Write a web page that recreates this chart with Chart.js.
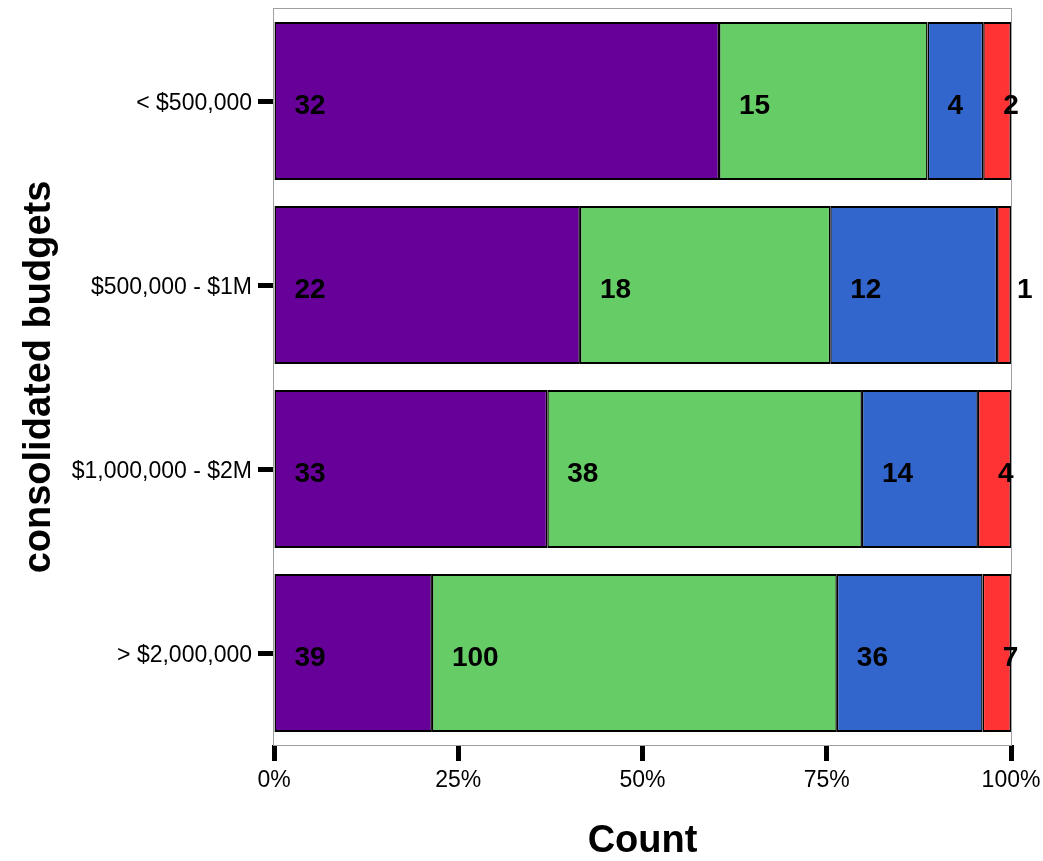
<!DOCTYPE html>
<html lang="en">
<head>
    <meta charset="UTF-8">
    <title>Consolidated budgets</title>
    <script src="https://cdn.jsdelivr.net/npm/chart.js"></script>
    <style>
        body {
            margin: 0;
            background: #ffffff;
        }
        canvas {
            display: block;
        }
    </style>
</head>
<body>
    <canvas id="myChart" width="1043" height="861"></canvas>

    <script>
        // data
        var budgets = ['< $500,000', '$500,000 - $1M', '$1,000,000 - $2M', '> $2,000,000'];
        var purpleCounts = [32, 22, 33, 39];
        var greenCounts = [15, 18, 38, 100];
        var blueCounts = [4, 12, 14, 36];
        var redCounts = [2, 1, 4, 7];
        var percentTicks = [0, 25, 50, 75, 100];

        var seriesCounts = [purpleCounts, greenCounts, blueCounts, redCounts];
        var seriesColors = ['#660099', '#66CC66', '#3366CC', '#FF3333'];

        // row totals -> share of each segment
        var totals = budgets.map(function(b, i) {
            return seriesCounts.reduce(function(s, arr) { return s + arr[i]; }, 0);
        });

        var datasets = seriesCounts.map(function(arr, k) {
            return {
                data: arr.map(function(v, i) { return v / totals[i] * 100; }),
                counts: arr,
                backgroundColor: seriesColors[k],
                borderColor: '#000000',
                borderWidth: {top: 2, bottom: 2, left: 1.5, right: 1.5},
                borderSkipped: false,
                barPercentage: 0.86,
                categoryPercentage: 1.0
            };
        });

        // grey frame around the plot area
        var framePlugin = {
            id: 'frame',
            beforeDatasetsDraw: function(chart) {
                var a = chart.chartArea;
                var ctx = chart.ctx;
                ctx.save();
                ctx.strokeStyle = '#a0a0a0';
                ctx.lineWidth = 1;
                ctx.strokeRect(a.left - 0.5, a.top - 0.5, a.right - a.left + 1, a.bottom - a.top + 1);
                ctx.restore();
            }
        };

        // count labels at the start of every segment
        var countLabels = {
            id: 'countLabels',
            afterDatasetsDraw: function(chart) {
                var ctx = chart.ctx;
                ctx.save();
                ctx.font = 'bold 28px "Liberation Sans", Arial, sans-serif';
                ctx.fillStyle = '#000000';
                ctx.textAlign = 'left';
                ctx.textBaseline = 'middle';
                chart.data.datasets.forEach(function(ds, k) {
                    chart.getDatasetMeta(k).data.forEach(function(bar, i) {
                        var left = Math.min(bar.base, bar.x);
                        ctx.fillText(String(ds.counts[i]), left + 20, bar.y + 5);
                    });
                });
                ctx.restore();
            }
        };

        var tickFont = {family: '"Liberation Sans", Arial, sans-serif', size: 23};
        var titleFont = {family: '"Liberation Sans", Arial, sans-serif', size: 38, weight: 'bold', lineHeight: 1};

        var ctx = document.getElementById('myChart').getContext('2d');
        var myChart = new Chart(ctx, {
            type: 'bar',
            data: {
                labels: budgets,
                datasets: datasets
            },
            plugins: [framePlugin, countLabels],
            options: {
                indexAxis: 'y',
                responsive: false,
                animation: false,
                layout: {
                    padding: {top: 9, right: 32, left: 0, bottom: 0}
                },
                plugins: {
                    legend: {display: false},
                    tooltip: {enabled: false}
                },
                scales: {
                    x: {
                        stacked: true,
                        min: 0,
                        max: 100,
                        afterBuildTicks: function(scale) {
                            scale.ticks = percentTicks.map(function(v) { return {value: v}; });
                        },
                        afterFit: function(scale) {
                            scale.height = 116;
                            scale.paddingLeft = 0;
                            scale.paddingRight = 0;
                        },
                        ticks: {
                            color: '#000000',
                            padding: 6,
                            maxRotation: 0,
                            font: tickFont,
                            callback: function(v) { return v + '%'; }
                        },
                        grid: {
                            display: true,
                            drawOnChartArea: false,
                            drawTicks: true,
                            tickLength: 16,
                            tickWidth: 5,
                            tickColor: '#000000'
                        },
                        border: {display: false},
                        title: {
                            display: true,
                            text: 'Count',
                            color: '#000000',
                            padding: {top: 0, bottom: 0},
                            font: titleFont
                        }
                    },
                    y: {
                        stacked: true,
                        afterFit: function(scale) {
                            scale.width = 274;
                            scale.paddingTop = 0;
                            scale.paddingBottom = 0;
                        },
                        ticks: {
                            color: '#000000',
                            padding: 6,
                            labelOffset: 3,
                            font: tickFont
                        },
                        grid: {
                            display: true,
                            offset: false,
                            drawOnChartArea: false,
                            drawTicks: true,
                            tickLength: 16,
                            tickWidth: 5,
                            tickColor: '#000000'
                        },
                        border: {display: false},
                        title: {
                            display: true,
                            text: 'consolidated budgets',
                            color: '#000000',
                            padding: {top: 21, bottom: 0},
                            font: titleFont
                        }
                    }
                }
            }
        });
    </script>
</body>
</html>
